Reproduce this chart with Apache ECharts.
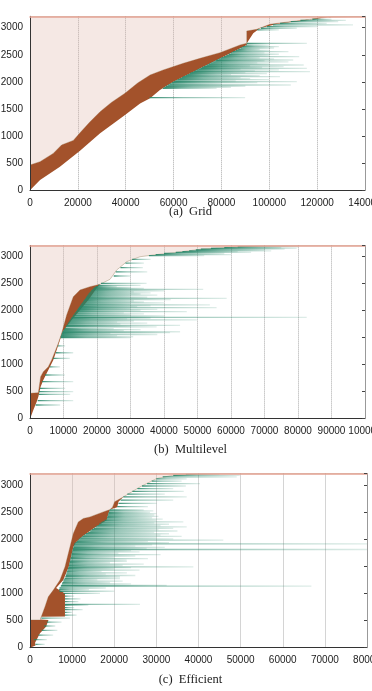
<!DOCTYPE html>
<html>
<head>
<meta charset="utf-8">
<script src="https://cdn.jsdelivr.net/npm/echarts@6/dist/echarts.min.js"></script>
<style>
html, body { margin: 0; padding: 0; background: #fff; }
#main { width: 372px; height: 691px; }
</style>
</head>
<body>
<div id="main"></div>
<script>
var dom = document.getElementById("main");
var myChart = echarts.init(dom);

// task index axis
var yMax = 3210;
var yStep = 500;

// x axis ranges per panel
var xMaxes = [140000, 100000, 80000];
var xSteps = [20000, 10000, 10000];
var captions = ["(a)  Grid", "(b)  Multilevel", "(c)  Efficient"];

// submit time boundary [time, task]
var submitGrid = [[0,0],[0,467],[4200,528],[9700,680],[13200,836],[18100,920],[20900,1060],[25000,1260],[29300,1450],[34000,1620],[39700,1790],[45000,1980],[50200,2127],[55700,2220],[64100,2343],[71100,2435],[79400,2539],[87800,2681],[90600,2712],[90600,2939],[94800,2970],[100300,3063],[108700,3111],[118400,3160],[125000,3195],[140000,3210]];
// start time boundary [time, task]
var startGrid = [[0,0],[4200,190],[12500,436],[20900,730],[29300,1052],[39700,1389],[46000,1600],[50200,1697],[54300,1850],[59900,2004],[68300,2188],[76600,2373],[85000,2557],[90600,2681],[90600,2712],[93300,2897],[96100,2989],[103100,3068],[115700,3142],[121200,3192],[140000,3210]];
// runs [task, start, end]
var runsGrid = [[1708,50000,89900],[1880,55500,78000],[1900,56100,84000],[1920,56800,90000],[1943,57700,109000],[1965,58500,80000],[1985,59300,95000],[2004,60000,111500],[2020,60800,86000],[2040,61600,100000],[2060,62500,92000],[2080,63400,88000],[2096,64000,104500],[2115,65000,96000],[2135,65800,84000],[2155,66700,99000],[2170,67400,90000],[2188,68300,117000],[2205,69000,94000],[2220,69800,104000],[2235,70500,88000],[2250,71200,115700],[2265,71900,97000],[2280,72600,106000],[2296,73300,92000],[2312,74000,114400],[2330,74800,100000],[2350,75700,95000],[2370,76600,108000],[2390,77500,98000],[2404,78100,110000],[2425,79000,102000],[2445,80000,96000],[2465,81000,112500],[2490,82000,100000],[2510,83000,104000],[2535,84000,98000],[2557,84800,108000],[2580,86000,100000],[2600,87000,96000],[2625,88000,102000],[2650,89000,104000],[2680,90200,100000],[2712,90600,115700],[2960,95000,104000],[2990,96500,111500],[3020,99000,120000],[3050,101500,135000],[3080,104500,124000],[3111,109000,128800],[3135,113000,132000],[3155,118000,126000]];

var submitMulti = [[0,0],[0,470],[2490,481],[3180,778],[3980,870],[5470,963],[6470,1087],[7460,1241],[8450,1396],[9460,1581],[10950,1920],[12930,2260],[14925,2384],[17910,2445],[20895,2489],[23880,2581],[25880,2754],[28860,2908],[32840,3000],[36800,3032],[43790,3081],[50750,3137],[58700,3174],[70650,3203],[100000,3210]];
var startMulti = [[0,0],[200,26],[1000,161],[2000,315],[2490,407],[3180,593],[3980,717],[4980,840],[5970,963],[6960,1087],[7960,1272],[8955,1457],[9750,1611],[12440,1828],[14925,2013],[17400,2198],[19900,2415],[20895,2489],[23880,2581],[25880,2754],[28860,2908],[32840,3000],[36800,3032],[43790,3081],[50750,3137],[58700,3174],[70650,3203],[100000,3210]];
var runsMulti = [[254,1700,9000],[333,2300,12900],[451,2600,12000],[500,2700,12900],[563,3000,10500],[685,3600,12900],[809,4500,10400],[960,5900,9000],[1118,6900,11900],[1222,7700,12900],[1350,8300,10500],[1500,9150,30000],[1518,9200,30800],[1540,9300,26000],[1560,9400,38000],[1580,9550,24000],[1593,9620,41800],[1611,9750,44800],[1630,9950,28000],[1650,10150,33000],[1670,10350,25000],[1700,10630,37800],[1715,10780,30000],[1730,10950,44800],[1750,11150,27000],[1770,11350,35000],[1790,11560,26000],[1810,11780,31000],[1829,11990,49800],[1850,12220,29000],[1865,12390,36000],[1878,12530,82600],[1902,12790,40000],[1920,12990,30000],[1940,13220,34000],[1960,13450,28000],[1985,13740,46800],[2005,13980,33000],[2025,14210,38000],[2040,14380,30000],[2056,14560,55700],[2075,14780,32000],[2090,14950,36000],[2107,15150,53700],[2125,15350,30000],[2145,15580,40000],[2165,15810,34000],[2185,16040,31000],[2205,16270,42000],[2230,16550,58700],[2250,16770,35000],[2270,17000,30000],[2290,17220,38000],[2310,17470,33000],[2330,17740,36000],[2350,18020,31000],[2370,18300,40000],[2396,18660,51700],[2415,18950,34000],[2430,19250,30000],[2445,19700,25900],[2470,20300,33000],[2507,21200,34800],[2643,25000,30000],[2720,25600,35000],[2797,27000,33700],[2880,28500,34000],[2950,30500,36000],[3020,35500,52000],[3040,37500,60000],[3060,40000,58000],[3080,43500,66000],[3095,45500,62000],[3110,47500,72000],[3125,49500,70000],[3140,51000,76000],[3155,54000,79600],[3170,58000,75000],[3185,62000,80000]];

var submitEff = [[0,0],[0,510],[2540,510],[2540,541],[3560,754],[4350,938],[5540,1062],[7120,1246],[8310,1490],[9500,1858],[10290,2105],[11470,2318],[12660,2381],[14240,2410],[17400,2502],[19000,2545],[19600,2590],[20100,2690],[22150,2778],[26110,2962],[30080,3117],[34020,3178],[40360,3205],[80000,3210]];
var startEff = [[0,0],[1300,40],[1200,90],[2370,265],[3800,387],[4350,500],[4350,510],[2540,520],[2700,570],[8300,575],[8300,1000],[6200,1100],[7900,1246],[9200,1490],[10300,1858],[11000,1950],[12270,2042],[15030,2197],[18200,2350],[18600,2470],[19000,2545],[20700,2590],[21000,2690],[22150,2778],[26110,2962],[30080,3117],[34020,3178],[40360,3205],[80000,3210]];
var runsEff = [[60,1300,3500],[150,1000,4000],[230,2000,5500],[320,2800,6500],[400,3400,6000],[470,4000,7500],[545,2700,9500],[601,8300,11080],[650,8300,10000],[700,8300,12500],[740,8300,10500],[785,8300,13850],[800,8300,26110],[850,8300,11500],[900,8300,12000],[950,8300,10500],[1000,8000,16620],[1040,7000,20000],[1070,6900,14000],[1100,7000,18000],[1135,7300,66800],[1150,7400,32450],[1175,7600,24000],[1200,7700,19000],[1225,7900,22000],[1250,8000,16000],[1275,8200,21360],[1307,8400,21360],[1330,8500,25000],[1355,8600,18000],[1380,8700,23000],[1405,8800,17000],[1430,8900,26000],[1455,9000,20000],[1475,9100,24000],[1491,9200,38780],[1515,9250,22000],[1540,9300,27000],[1565,9400,19000],[1590,9500,23000],[1613,9550,22950],[1640,9600,28000],[1665,9700,20000],[1690,9800,25000],[1715,9850,31000],[1740,9900,21000],[1765,10000,26000],[1790,10100,24000],[1810,10150,80000],[1828,10200,27700],[1850,10300,32000],[1870,10350,25000],[1895,10450,29000],[1913,10500,80000],[1935,10800,33000],[1960,11100,28000],[1981,11400,45890],[2005,11700,34000],[2025,12000,30000],[2050,12400,36000],[2075,12800,31000],[2100,13300,33000],[2125,13800,29500],[2150,14300,35000],[2175,14700,30500],[2200,15100,34000],[2227,15600,37200],[2250,16000,31000],[2275,16400,33000],[2300,16800,29500],[2320,17200,36400],[2345,17700,30000],[2370,18200,31500],[2395,18300,29000],[2420,18400,30500],[2445,18500,29500],[2470,18600,30000],[2495,18700,28500],[2520,18800,29280],[2540,19000,27000],[2600,20700,28000],[2660,21000,30080],[2720,21500,34000],[2778,22150,37200],[2830,23100,32000],[2880,24300,36500],[2930,25500,34000],[2980,26600,37000],[3025,27800,40360],[3070,28900,36000],[3110,30000,37200],[3146,31500,49070],[3177,34000,49800],[3195,37000,45000]];

var submits = [submitGrid, submitMulti, submitEff];
var starts = [startGrid, startMulti, startEff];
var runs = [runsGrid, runsMulti, runsEff];

// layout of the three plots
var grids = [
  { left: 30, top: 16.3, width: 335, height: 174, outerBoundsMode: 'none', containLabel: false },
  { left: 30, top: 245.4, width: 335, height: 173.3, outerBoundsMode: 'none', containLabel: false },
  { left: 30, top: 473.5, width: 337, height: 174.2, outerBoundsMode: 'none', containLabel: false }
];
var captionY = [212, 450, 680];

var pinkColor = 'rgba(226,188,176,0.34)';
var brownColor = '#a3522b';

function plain(v) { return String(v); }

function polygonSeries(i, getPoints, fill, stroke) {
  return {
    type: 'custom', xAxisIndex: 2 * i, yAxisIndex: 2 * i,
    silent: true, clip: true, data: [[0, 0]],
    renderItem: function (params, api) {
      var pts = getPoints().map(function (p) { return api.coord(p); });
      return {
        type: 'polygon', shape: { points: pts },
        style: { fill: fill, stroke: stroke || null, lineWidth: 0.7 }
      };
    }
  };
}

function runSeries(i) {
  return {
    type: 'custom', xAxisIndex: 2 * i, yAxisIndex: 2 * i,
    silent: true, clip: true, data: runs[i],
    encode: { x: [1, 2], y: 0 },
    renderItem: function (params, api) {
      var y = api.value(0);
      var a = api.coord([api.value(1), y]);
      var b = api.coord([api.value(2), y]);
      return {
        type: 'rect',
        shape: { x: a[0], y: a[1] - 0.65, width: Math.max(b[0] - a[0], 1), height: 1.3 },
        style: {
          fill: new echarts.graphic.LinearGradient(0, 0, 1, 0, [
            { offset: 0, color: 'rgba(36,132,102,0.9)' },
            { offset: 0.35, color: 'rgba(36,132,102,0.5)' },
            { offset: 1, color: 'rgba(36,132,102,0.15)' }
          ])
        }
      };
    }
  };
}

var xAxes = [], yAxes = [], series = [], graphics = [];
for (var i = 0; i < 3; i++) {
  xAxes.push({
    type: 'value', gridIndex: i, position: 'bottom', min: 0, max: xMaxes[i], interval: xSteps[i],
    axisLine: { onZero: false, lineStyle: { color: '#333', width: 1 } },
    axisTick: { show: false },
    axisLabel: { interval: 0, fontSize: 10, margin: 8, color: '#222', fontFamily: 'Liberation Sans', formatter: plain, hideOverlap: false },
    splitLine: { show: true, lineStyle: { color: '#aaa', type: 'dotted', width: 1 } }
  });
  xAxes.push({
    type: 'value', gridIndex: i, position: 'top', min: 0, max: xMaxes[i], z: 5,
    axisLine: { onZero: false, lineStyle: { color: '#e3a394', width: 1.5 } },
    axisTick: { show: false }, axisLabel: { show: false }, splitLine: { show: false }
  });
  yAxes.push({
    type: 'value', gridIndex: i, position: 'left', min: 0, max: yMax, interval: yStep, z: 5,
    axisLine: { show: true, onZero: false, lineStyle: { color: '#333', width: 1 } },
    axisTick: { show: false },
    axisLabel: { fontSize: 10, margin: 7, color: '#222', fontFamily: 'Liberation Sans', showMaxLabel: false, formatter: plain },
    splitLine: { show: false }
  });
  yAxes.push({
    type: 'value', gridIndex: i, position: 'right', min: 0, max: yMax, interval: yStep, z: 5,
    axisLine: { show: true, onZero: false, lineStyle: { color: '#999', width: 1 } },
    axisTick: { show: true, inside: true, length: 3, lineStyle: { color: '#444' } },
    axisLabel: { show: false }, splitLine: { show: false }
  });

  (function (k) {
    series.push(polygonSeries(k, function () {
      var s = submits[k];
      return [[0, yMax]].concat(s).concat([[s[s.length - 1][0], yMax]]);
    }, pinkColor, 'rgba(140,115,75,0.55)'));
    series.push(polygonSeries(k, function () {
      return submits[k].concat(starts[k].slice().reverse());
    }, brownColor));
  })(i);
  series.push(runSeries(i));

  graphics.push({
    type: 'text', x: 190.5, y: captionY[i],
    style: {
      text: captions[i], fill: '#222', align: 'center', verticalAlign: 'middle',
      font: '12.5px "Liberation Serif"'
    }
  });
}

var option = {
  animation: false,
  backgroundColor: '#fff',
  grid: grids,
  xAxis: xAxes,
  yAxis: yAxes,
  series: series,
  graphic: graphics
};

myChart.setOption(option);
</script>
</body>
</html>
